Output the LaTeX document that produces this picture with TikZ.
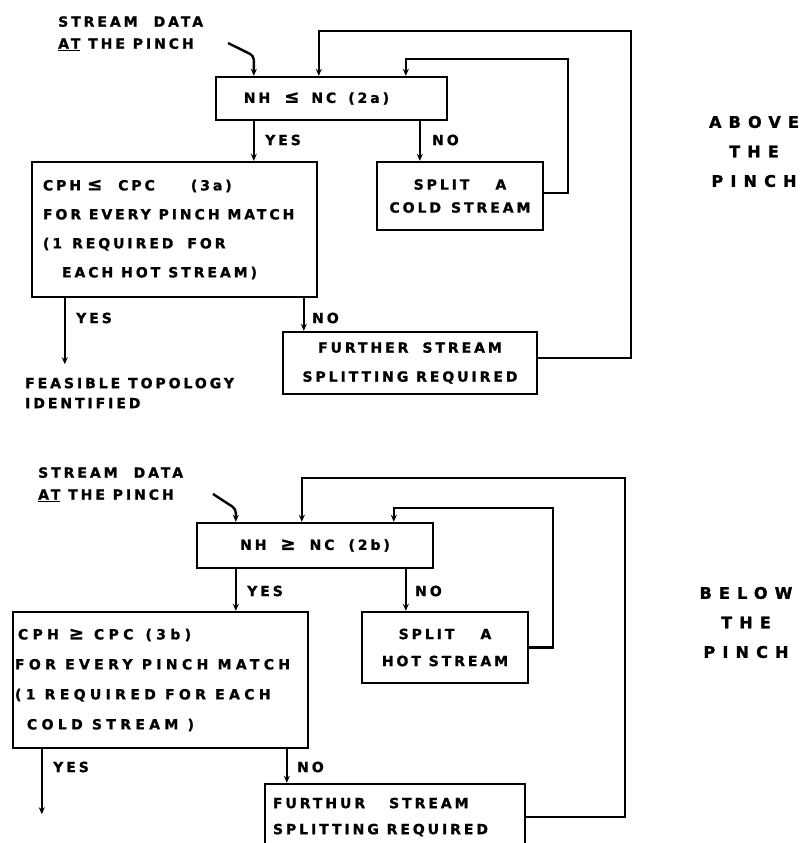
\documentclass[tikz,border=0pt]{standalone}
\usepackage{fontspec}
\newfontfamily\dfont{DejaVu Sans Bold}[LetterSpace=21,FakeBold=1.2]
\newcommand\myle{{\fontsize{18}{18}\selectfont ≤}}
\newcommand\myge{{\fontsize{18}{18}\selectfont ≥}}
\usetikzlibrary{arrows.meta}
\begin{document}
\begin{tikzpicture}[x=1pt,y=-1pt,
  every node/.style={inner sep=0pt},
  arr/.style={line width=2.4pt,-{Stealth[length=7pt,width=6pt]}},
  box/.style={draw,line width=2.4pt},
  f/.style={font=\dfont\fontsize{14}{#1}\selectfont},
  f/.default=15,
  side/.style={font=\dfont\fontsize{16}{29.5}\selectfont\addfontfeature{LetterSpace=45,FakeBold=1.6},align=center},
]
\useasboundingbox (0,0) rectangle (805,843);

% ---------------- ABOVE THE PINCH ----------------
\node[box,f,align=center,minimum width=231pt,minimum height=43pt] (nh1) at (331.5,98.5) {NH\hspace{14pt}\myle\hspace{12pt}NC\hspace{12pt}(2a)\hspace*{30pt}};
\node[box,f=23,align=center,minimum width=166pt,minimum height=68pt] (spl1) at (460,196) {SPLIT\hspace{26pt}A\\COLD\hspace{10pt}STREAM};
\node[box,f=29,align=left,minimum width=285pt,minimum height=135pt] (cph1) at (174.5,229.5)
  {\makebox[263pt][l]{CPH\hspace*{6pt}\myle\hspace*{16pt}CPC\hspace*{36pt}(3a)}\\FOR EVERY PINCH MATCH\\(1\hspace*{10pt}REQUIRED\hspace*{14pt}FOR\\\hspace*{19pt}EACH\hspace*{8pt}HOT\hspace*{8pt}STREAM)};
\node[box,f=29,align=center,minimum width=254pt,minimum height=62pt] (fur1) at (410,363) {FURTHER\hspace{14pt}STREAM\\SPLITTING REQUIRED};

\node[f=22,align=left,anchor=west] (inA) at (58,33.5) {STREAM\hspace{16pt}DATA\\\underline{AT} THE PINCH};
\node[f=20,align=left,anchor=west] (feas) at (25,393) {FEASIBLE\hspace{8pt}TOPOLOGY\\IDENTIFIED};
\node[side] (above) at (754,151.5) {ABOVE\\THE\\PINCH};

\node[f,anchor=west] (yesA) at (265,140) {YES};
\node[f,anchor=west] (noA) at (432,140) {NO};
\node[f,anchor=west] (yesB) at (76,318) {YES};
\node[f,anchor=west] (noB) at (312,318) {NO};

\coordinate (sA) at (228,43);
\coordinate (lp1) at (568,59);
\coordinate (lp2) at (631,31);
\coordinate (fA) at ([xshift=34pt,yshift=-66pt]cph1.south west);

\draw[arr,rounded corners=4pt] (sA) -- ([xshift=39pt,yshift=20pt]nh1.north west) -- ([xshift=39pt]nh1.north west);
\draw[arr] ([xshift=39pt]nh1.south west) -- ([xshift=39pt]nh1.south west |- cph1.north);
\draw[arr] ([xshift=205pt]nh1.south west) -- ([xshift=205pt]nh1.south west |- spl1.north);
\draw[arr] ([yshift=3pt]spl1.east) -| (lp1) -| ([xshift=191pt]nh1.north west);
\draw[arr] ([yshift=5pt]fur1.east) -| (lp2) -| ([xshift=104pt]nh1.north west);
\draw[arr] ([xshift=34pt]cph1.south west) -- (fA);
\draw[arr] ([xshift=273pt]cph1.south west) -- ([xshift=273pt]cph1.south west |- fur1.north);

% ---------------- BELOW THE PINCH ----------------
\node[box,f,align=center,minimum width=236pt,minimum height=45pt] (nh2) at (315,545.5) {NH\hspace{14pt}\myge\hspace{14pt}NC\hspace{14pt}(2b)};
\node[box,f=27,align=center,minimum width=166pt,minimum height=71pt] (spl2) at (445,647.5) {SPLIT\hspace{26pt}A\\HOT STREAM};
\node[box,font=\dfont\fontsize{14}{30}\selectfont\addfontfeature{LetterSpace=31},align=left,minimum width=295pt,minimum height=136pt] (cph2) at (160.5,680)
  {\makebox[291pt][l]{\hspace*{3pt}CPH\hspace*{10pt}\myge\hspace*{10pt}CPC\hspace*{12pt}(3b)}\\FOR EVERY PINCH MATCH\\(1 REQUIRED FOR EACH\\\hspace*{12pt}COLD STREAM )};
\node[box,f=26,align=left,minimum width=260pt,minimum height=66pt] (fur2) at (395,817) {\makebox[244pt][l]{FURTHUR\hspace{24pt}STREAM}\\SPLITTING REQUIRED};

\node[f=22,align=left,anchor=west] (inB) at (38,484.5) {STREAM\hspace{16pt}DATA\\\underline{AT} THE PINCH};
\node[side] (below) at (746,622.5) {BELOW\\THE\\PINCH};

\node[f,anchor=west] (yesC) at (247,591) {YES};
\node[f,anchor=west] (noC) at (415,591) {NO};
\node[f,anchor=west] (yesD) at (53,767) {YES};
\node[f,anchor=west] (noD) at (297,767) {NO};

\coordinate (sB) at (213,494);
\coordinate (lp3) at (553,508);
\coordinate (lp4) at (625,478);
\coordinate (fB) at ([xshift=30pt,yshift=-65pt]cph2.south west);

\draw[arr,rounded corners=4pt] (sB) -- ([xshift=40pt,yshift=13pt]nh2.north west) -- ([xshift=40pt]nh2.north west);
\draw[arr] ([xshift=40pt]nh2.south west) -- ([xshift=40pt]nh2.south west |- cph2.north);
\draw[arr] ([xshift=210pt]nh2.south west) -- ([xshift=210pt]nh2.south west |- spl2.north);
\draw[arr] (spl2.east) -| (lp3) -| ([xshift=198pt]nh2.north west);
\draw[arr] (fur2.east) -| (lp4) -| ([xshift=106pt]nh2.north west);
\draw[arr] ([xshift=30pt]cph2.south west) -- (fB);
\draw[arr] ([xshift=275pt]cph2.south west) -- ([xshift=275pt]cph2.south west |- fur2.north);
\end{tikzpicture}
\end{document}
